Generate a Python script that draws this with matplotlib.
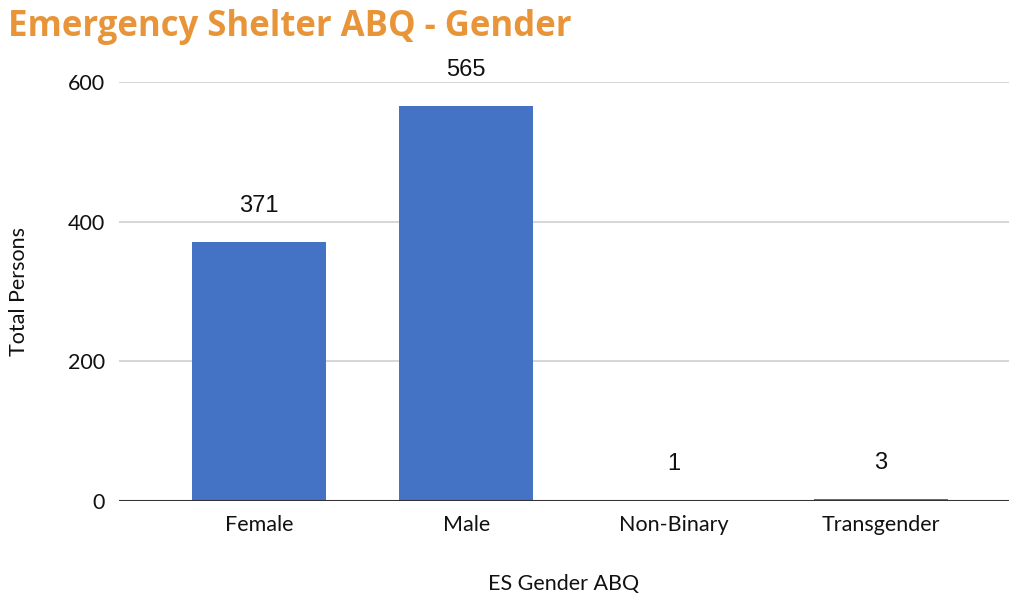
import matplotlib.pyplot as plt

categories = ["Female", "Male", "Non-Binary", "Transgender"]
persons = [371, 565, 1, 3]
y_ticks = [0, 200, 400, 600]

title = "Emergency Shelter ABQ - Gender"
bar_color = "#4472C4"
title_color = "#E8953A"

fig = plt.figure(figsize=(10.09, 6.0), dpi=100)
ax = fig.add_axes([119 / 1009, 1 - 501 / 600, 890 / 1009, 419 / 600])

x = list(range(len(categories)))
bars = ax.bar(x, persons, width=0.647, color=bar_color, zorder=3)

for rect, v in zip(bars, persons):
    ax.annotate(str(v), (rect.get_x() + rect.get_width() / 2, v),
                xytext=(0, 18), textcoords="offset points",
                ha="center", va="bottom", fontsize=17,
                family="Liberation Sans", color="#111111")

ax.set_xlim(-0.676, 3.62)
ax.set_ylim(0, 600)
ax.set_yticks(y_ticks)
ax.set_xticks(x)
ax.set_xticklabels(categories)

ax.grid(axis="y", color="#d0d0d0", linewidth=1.2, zorder=0)
ax.axhline(0, color="#333333", linewidth=1.5, zorder=4)
for s in ax.spines.values():
    s.set_visible(False)
ax.tick_params(length=0, labelsize=15.5, labelcolor="#111111")
ax.tick_params(axis="x", pad=10)
ax.tick_params(axis="y", pad=10)
for lab in ax.get_xticklabels() + ax.get_yticklabels():
    lab.set_family("Lato")

ax.set_xlabel("ES Gender ABQ", fontsize=15.5, family="Lato", labelpad=28, color="#111111")
ax.set_ylabel("Total Persons", fontsize=15.5, family="Lato", labelpad=28, color="#111111")

fig.text(8 / 1009, 1 - 36 / 600, title, fontsize=25, fontweight="bold",
         family="Open Sans", color=title_color, va="baseline", ha="left")

fig.savefig("out.png", dpi=100)
